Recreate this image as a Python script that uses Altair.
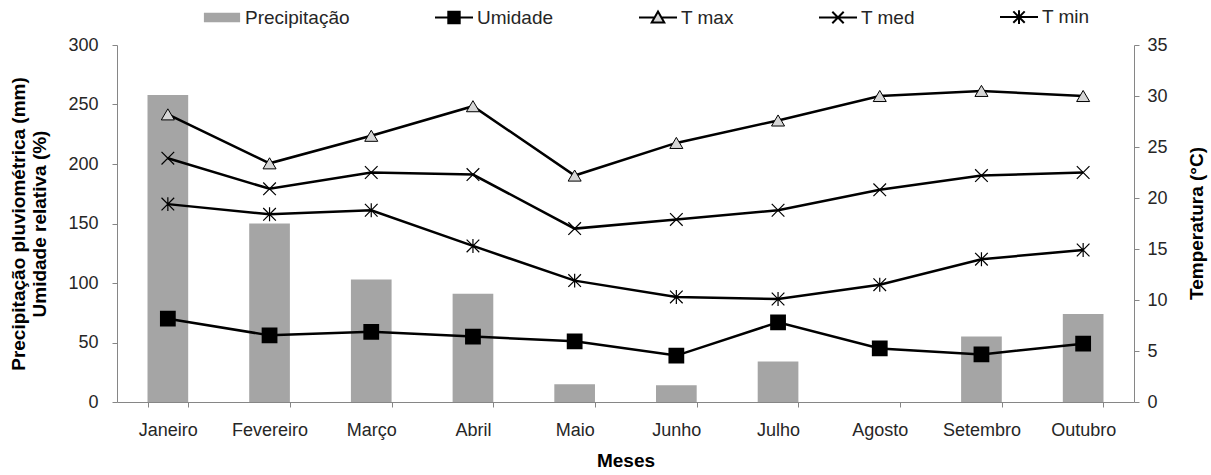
import altair as alt
import pandas as pd

# Monthly climate data
meses = ["Janeiro", "Fevereiro", "Março", "Abril", "Maio",
         "Junho", "Julho", "Agosto", "Setembro", "Outubro"]
precipitacao = [258, 150, 103, 91, 15, 14, 34, 0, 55, 74]          # mm
umidade = [70, 56, 59, 55, 51, 39, 67, 45, 40, 49]                 # %
t_max = [28.2, 23.4, 26.1, 29.0, 22.2, 25.4, 27.6, 30.0, 30.5, 30.0]  # °C
t_med = [23.9, 20.9, 22.5, 22.3, 17.0, 17.9, 18.8, 20.8, 22.2, 22.5]
t_min = [19.4, 18.4, 18.8, 15.3, 11.9, 10.3, 10.1, 11.5, 14.0, 14.9]

left_ticks = [0, 50, 100, 150, 200, 250, 300]
right_ticks = [0, 5, 10, 15, 20, 25, 30, 35]

series_legenda = ["Precipitação", "Umidade", "T max", "T med", "T min"]

df = pd.DataFrame({
    "Mes": meses,
    "Precipitacao": precipitacao,
    "Umidade": umidade,
    "Tmax": t_max,
    "Tmed": t_med,
    "Tmin": t_min,
})

FONT = "Liberation Sans"
AXIS_GRAY = "#868686"
TEXT = "#262626"
BAR_GRAY = "#a5a5a5"
TRI_GRAY = "#d6d6d6"

x_enc = alt.X(
    "Mes:N", sort=meses,
    scale=alt.Scale(paddingInner=0.6, paddingOuter=0.3),
    axis=alt.Axis(title="Meses", labelAngle=0, tickBand="extent",
                  labelPadding=14, titlePadding=12),
)

left_scale = alt.Scale(domain=[0, 300], nice=False)
left_axis = alt.Axis(
    title=["Precipitação pluviométrica (mm)", "Umidade relativa (%)"],
    values=left_ticks, orient="left", labelPadding=14, titlePadding=18,
)
right_scale = alt.Scale(domain=[0, 35], nice=False)
right_axis = alt.Axis(
    title="Temperatura (°C)", values=right_ticks, orient="right",
    labelPadding=8, titleAngle=270, titleX=62, titleY=178,
    titleAlign="center", titleBaseline="middle",
)

base = alt.Chart(df)

bars = base.mark_bar(color=BAR_GRAY).encode(
    x=x_enc, y=alt.Y("Precipitacao:Q", scale=left_scale, axis=left_axis))

umid_line = base.mark_line(color="black", strokeWidth=2.5).encode(
    x=x_enc, y=alt.Y("Umidade:Q", scale=left_scale, axis=left_axis))
umid_pts = base.mark_point(shape="square", size=190, filled=True,
                           fill="black", stroke="black", opacity=1).encode(
    x=x_enc, y=alt.Y("Umidade:Q", scale=left_scale, axis=left_axis))

# Marker shapes (SVG paths in the unit square)
TRI = "M0,-0.85L1,0.85H-1Z"
XMARK = "M-1,-1L1,1M-1,1L1,-1"
STAR = "M-1,-1L1,1M-1,1L1,-1M0,-1.1V1.1"


def temp_layers(field, shape, size, fill):
    y = alt.Y(f"{field}:Q", scale=right_scale, axis=right_axis)
    line = base.mark_line(color="black", strokeWidth=2.5).encode(x=x_enc, y=y)
    if fill is None:
        pts = base.mark_point(shape=shape, size=size, filled=False,
                              stroke="black", strokeWidth=1.2,
                              opacity=1).encode(x=x_enc, y=y)
    else:
        pts = base.mark_point(shape=shape, size=size, filled=True,
                              fill=fill, stroke="black", strokeWidth=1,
                              opacity=1).encode(x=x_enc, y=y)
    return [line, pts]


# Legend built from one invisible layer; symbols combine line + marker
legend_paths = [
    "M-0.9,-0.2H0.9V0.2H-0.9Z",
    "M-1,0H1M-0.3,-0.3H0.3V0.3H-0.3Z",
    "M-1,0H-0.2M0.2,0H1M0,-0.32L0.33,0.26H-0.33Z",
    "M-1,0H1M-0.3,-0.3L0.3,0.3M-0.3,0.3L0.3,-0.3",
    "M-1,0H1M-0.3,-0.3L0.3,0.3M-0.3,0.3L0.3,-0.3M0,-0.36V0.36",
]
legend_fills = [BAR_GRAY, "black", TRI_GRAY, "transparent", "transparent"]
legend_strokes = [BAR_GRAY, "black", "black", "black", "black"]

legend_layer = alt.Chart(pd.DataFrame({"serie": series_legenda})).mark_point(
    opacity=0).encode(
    shape=alt.Shape("serie:N", title=None,
                    scale=alt.Scale(domain=series_legenda, range=legend_paths)),
    fill=alt.Fill("serie:N", title=None,
                  scale=alt.Scale(domain=series_legenda, range=legend_fills)),
    stroke=alt.Stroke("serie:N", title=None,
                      scale=alt.Scale(domain=series_legenda, range=legend_strokes)),
)

left = alt.layer(bars, umid_line, umid_pts, legend_layer)
right = alt.layer(
    *temp_layers("Tmax", TRI, 170, TRI_GRAY),
    *temp_layers("Tmed", XMARK, 160, None),
    *temp_layers("Tmin", STAR, 160, None),
)

chart = alt.layer(left, right).resolve_scale(y="independent").properties(
    width=1017, height=357,
    autosize=alt.AutoSizeParams(type="none"),
    padding={"left": 117, "top": 45, "right": 77, "bottom": 73},
).configure_view(stroke=None).configure_axis(
    grid=False,
    domainColor=AXIS_GRAY, tickColor=AXIS_GRAY, tickSize=5,
    labelFont=FONT, labelFontSize=18, labelColor=TEXT,
    titleFont=FONT, titleFontSize=19, titleFontWeight="bold", titleColor="black",
).configure_legend(
    orient="none", legendX=85, legendY=-48, direction="horizontal",
    symbolSize=1444, symbolStrokeWidth=2, symbolOpacity=1,
    labelFont=FONT, labelFontSize=19, labelColor=TEXT, labelOffset=3,
    columnPadding=81,
)

chart.save("out.html", embed_options={"renderer": "svg", "actions": False})
